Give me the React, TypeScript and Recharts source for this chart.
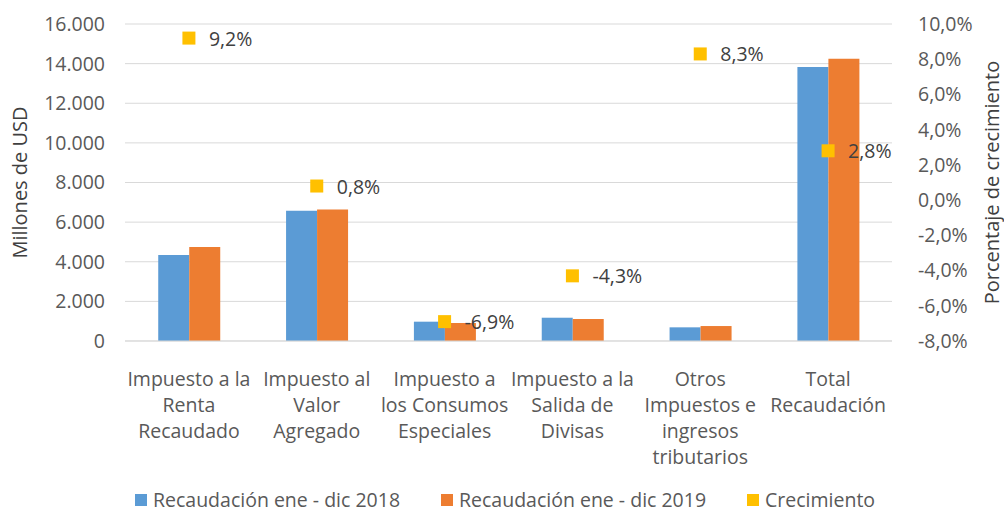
import {
  ComposedChart,
  Bar,
  Scatter,
  XAxis,
  YAxis,
  CartesianGrid,
  Legend,
  LabelList,
} from "recharts";

document.body.style.margin = "0";

const categories = [
  "Impuesto a la\nRenta\nRecaudado",
  "Impuesto al\nValor\nAgregado",
  "Impuesto a\nlos Consumos\nEspeciales",
  "Impuesto a la\nSalida de\nDivisas",
  "Otros\nImpuestos e\ningresos\ntributarios",
  "Total\nRecaudación",
];
const recaudacion2018 = [4340, 6580, 975, 1175, 690, 13830];
const recaudacion2019 = [4750, 6640, 910, 1110, 755, 14250];
const crecimiento = [9.2, 0.8, -6.9, -4.3, 8.3, 2.8];

const leftTicks = [0, 2000, 4000, 6000, 8000, 10000, 12000, 14000, 16000];
const rightTicks = [-8, -6, -4, -2, 0, 2, 4, 6, 8, 10];

const data = categories.map((name, i) => ({
  name,
  r2018: recaudacion2018[i],
  r2019: recaudacion2019[i],
  growth: crecimiento[i],
}));

const FONT = "'Open Sans', sans-serif";
const TEXT = "#595959";
const FS = 19.5;

const fmtThousands = (v: number) =>
  v.toString().replace(/\B(?=(\d{3})+(?!\d))/g, ".");
const fmtPct = (v: number) => v.toFixed(1).replace(".", ",") + "%";

function CategoryTick(props: any) {
  const { x, y, payload } = props;
  const lines = String(payload.value).split("\n");
  return (
    <text
      x={x}
      y={y + 29}
      textAnchor="middle"
      fill={TEXT}
      fontSize={FS}
      fontFamily={FONT}
      dominantBaseline="central"
    >
      {lines.map((l, i) => (
        <tspan key={i} x={x} dy={i === 0 ? 0 : 26}>
          {l}
        </tspan>
      ))}
    </text>
  );
}

function Square(props: any) {
  const { cx, cy } = props;
  return <rect x={cx - 6.5} y={cy - 6.5} width={13} height={13} fill="#FFC000" />;
}

function GrowthLabel(props: any) {
  const { x, y, width, height, value } = props;
  const cx = x + width / 2;
  const cy = y + height / 2;
  return (
    <text
      x={cx + 20}
      y={cy}
      fill="#404040"
      fontSize={FS}
      fontFamily={FONT}
      dominantBaseline="central"
    >
      {fmtPct(value)}
    </text>
  );
}

const legendItems = [
  { label: "Recaudación ene - dic 2018", color: "#5B9BD5" },
  { label: "Recaudación ene - dic 2019", color: "#ED7D31" },
  { label: "Crecimiento", color: "#FFC000" },
];

function ChartLegend() {
  return (
    <div
      style={{
        display: "flex",
        justifyContent: "flex-start",
        gap: 41,
        height: 20,
        paddingTop: 14,
        alignItems: "center",
        fontFamily: FONT,
        fontSize: 19.5,
        lineHeight: "20px",
        color: TEXT,
        paddingLeft: 135,
      }}
    >
      {legendItems.map((it) => (
        <div key={it.label} style={{ display: "flex", alignItems: "center" }}>
          <span
            style={{
              width: 12,
              height: 12,
              background: it.color,
              display: "inline-block",
              marginRight: 6,
            }}
          />
          {it.label}
        </div>
      ))}
    </div>
  );
}

export default function App() {
  return (
    <ComposedChart
      width={1004}
      height={512}
      data={data}
      margin={{ top: 24, right: 0, bottom: 2, left: 0 }}
      barGap={0}
      barCategoryGap="26%"
    >
      <CartesianGrid vertical={false} stroke="#d9d9d9" yAxisId="left" />
      <XAxis
        dataKey="name"
        height={135}
        interval={0}
        tick={<CategoryTick />}
        tickLine={false}
        axisLine={{ stroke: "#d9d9d9" }}
      />
      <YAxis
        yAxisId="left"
        width={125}
        domain={[0, 16000]}
        ticks={leftTicks}
        tickFormatter={fmtThousands}
        axisLine={false}
        tickLine={false}
        tickMargin={14}
        tick={{ fill: TEXT, fontSize: FS, fontFamily: FONT }}
        label={{
          value: "Millones de USD",
          angle: -90,
          position: "insideLeft",
          offset: 20,
          style: { textAnchor: "middle", fill: "#404040", fontSize: 20, fontFamily: FONT },
        }}
      />
      <YAxis
        yAxisId="right"
        orientation="right"
        width={112}
        domain={[-8, 10]}
        ticks={rightTicks}
        tickFormatter={fmtPct}
        axisLine={false}
        tickLine={false}
        tickMargin={20}
        tick={{ fill: TEXT, fontSize: FS, fontFamily: FONT, textAnchor: "start" }}
        label={{
          value: "Porcentaje de crecimiento",
          angle: -90,
          position: "insideRight",
          offset: 12,
          style: { textAnchor: "middle", fill: "#404040", fontSize: 20, fontFamily: FONT },
        }}
      />
      <Legend verticalAlign="bottom" content={<ChartLegend />} />
      <Bar
        yAxisId="left"
        dataKey="r2018"
        name="Recaudación ene - dic 2018"
        fill="#5B9BD5"
        isAnimationActive={false}
      />
      <Bar
        yAxisId="left"
        dataKey="r2019"
        name="Recaudación ene - dic 2019"
        fill="#ED7D31"
        isAnimationActive={false}
      />
      <Scatter
        yAxisId="right"
        dataKey="growth"
        name="Crecimiento"
        fill="#FFC000"
        shape={<Square />}
        isAnimationActive={false}
      >
        <LabelList dataKey="growth" content={<GrowthLabel />} />
      </Scatter>
    </ComposedChart>
  );
}
